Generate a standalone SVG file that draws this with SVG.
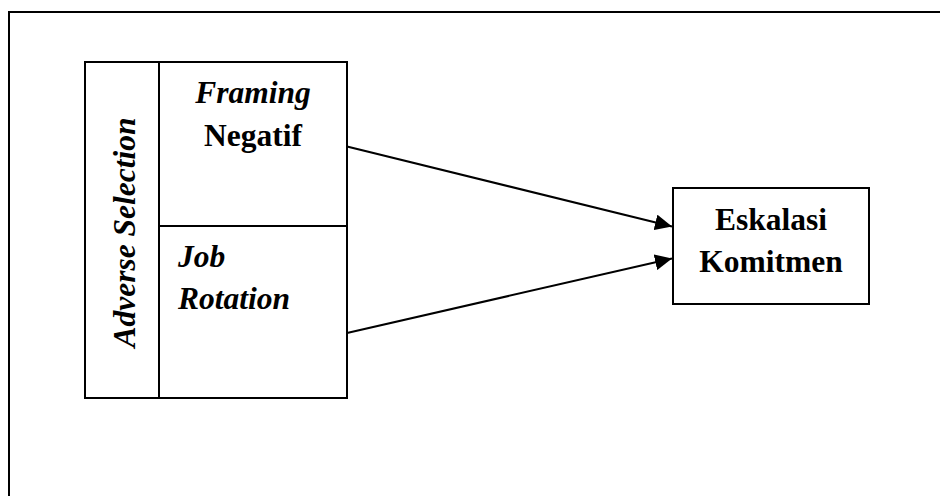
<svg xmlns="http://www.w3.org/2000/svg" width="940" height="496" viewBox="0 0 940 496">
<style>
.box{fill:#fff;stroke:#000;stroke-width:2}
.t{font-family:"Liberation Serif","Times New Roman",serif;font-size:31.5px;font-weight:bold;fill:#000}
.i{font-style:italic}
.c{stroke:#000;stroke-width:2;fill:none}
</style>
<defs>
<marker id="ah" markerUnits="userSpaceOnUse" markerWidth="18" markerHeight="16" refX="17" refY="8" orient="auto">
<path d="M0,0 L17,8 L0,16 Z" fill="#000"/>
</marker>
</defs>
<rect width="940" height="496" fill="#fff"/>
<g id="frame">
<path d="M9,496 V12 H940" fill="none" stroke="#000" stroke-width="2"/>
</g>
<g id="adverse-selection">
<rect class="box" x="85" y="62" width="74" height="336"/>
<text class="t i" transform="translate(135,232.5) rotate(-90)" text-anchor="middle">Adverse Selection</text>
</g>
<g id="framing-negatif">
<rect class="box" x="159" y="62" width="188" height="164"/>
<text class="t i" x="253" y="103" text-anchor="middle">Framing</text>
<text class="t" x="253" y="146" text-anchor="middle">Negatif</text>
</g>
<g id="job-rotation">
<rect class="box" x="159" y="226" width="188" height="172"/>
<text class="t i" x="178" y="267">Job</text>
<text class="t i" x="178" y="309">Rotation</text>
</g>
<g id="eskalasi-komitmen">
<rect class="box" x="673" y="188" width="196" height="116"/>
<text class="t" x="771" y="230" text-anchor="middle">Eskalasi</text>
<text class="t" x="771" y="272" text-anchor="middle">Komitmen</text>
</g>
<g id="connectors">
<line class="c" x1="347" y1="146.5" x2="672" y2="226.5" marker-end="url(#ah)"/>
<line class="c" x1="347" y1="333" x2="672" y2="258.5" marker-end="url(#ah)"/>
</g>
</svg>
